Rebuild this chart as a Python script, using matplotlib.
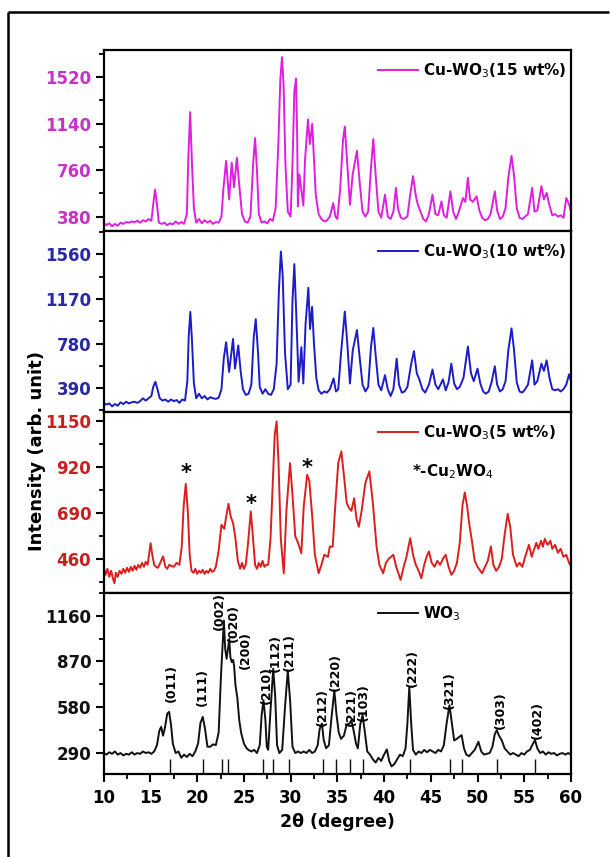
import numpy as np
import matplotlib.pyplot as plt
from matplotlib.ticker import MultipleLocator
from matplotlib.lines import Line2D

plt.rcParams['font.family'] = ['DejaVu Sans']
plt.rcParams['mathtext.fontset'] = 'dejavusans'

# XRD patterns: (2theta, intensity)
cu15 = np.array([
    (10.0, 330), (10.3, 310), (10.6, 325), (10.9, 300), (11.2, 320), (11.5, 305), (11.8, 330),
    (12.1, 320), (12.4, 335), (12.7, 330), (13.0, 340), (13.3, 335), (13.6, 345), (13.9, 330),
    (14.2, 350), (14.5, 340), (14.8, 360), (15.1, 345), (15.3, 480), (15.5, 600), (15.7, 480),
    (15.9, 330), (16.2, 320), (16.5, 330), (16.8, 310), (17.1, 325), (17.4, 315), (17.7, 340),
    (18.0, 320), (18.3, 335), (18.6, 320), (18.9, 400), (19.05, 850), (19.25, 1233), (19.45, 800),
    (19.65, 450), (19.9, 330), (20.2, 360), (20.5, 325), (20.8, 350), (21.1, 330), (21.4, 345),
    (21.7, 320), (22.0, 335), (22.3, 330), (22.6, 380), (22.8, 600), (23.1, 834), (23.42, 520),
    (23.7, 820), (23.95, 620), (24.25, 861), (24.55, 600), (24.8, 400), (25.1, 340), (25.4, 330),
    (25.7, 380), (26.0, 820), (26.2, 1021), (26.4, 760), (26.6, 400), (26.9, 330), (27.2, 340),
    (27.5, 325), (27.8, 360), (28.1, 345), (28.4, 450), (28.7, 1000), (28.9, 1500), (29.08, 1682),
    (29.25, 1450), (29.45, 800), (29.7, 420), (30.0, 380), (30.2, 800), (30.4, 1400), (30.58, 1508),
    (30.7, 1050), (30.78, 463), (30.94, 724), (31.15, 600), (31.36, 470), (31.55, 850), (31.86, 1173),
    (32.06, 972), (32.31, 1137), (32.5, 850), (32.7, 550), (33.0, 400), (33.3, 360), (33.6, 340),
    (33.9, 350), (34.2, 380), (34.56, 490), (34.8, 380), (35.0, 360), (35.3, 600), (35.6, 1000),
    (35.8, 1115), (36.0, 880), (36.35, 476), (36.64, 724), (37.1, 917), (37.4, 650), (37.7, 420),
    (38.0, 380), (38.3, 420), (38.6, 780), (38.85, 1013), (39.1, 720), (39.4, 420), (39.7, 370),
    (40.1, 559), (40.4, 380), (40.7, 360), (41.0, 420), (41.27, 614), (41.5, 440), (41.8, 370),
    (42.1, 360), (42.5, 380), (42.8, 560), (43.1, 710), (43.4, 550), (43.6, 480), (43.9, 420),
    (44.2, 360), (44.5, 340), (44.8, 400), (45.18, 559), (45.5, 400), (45.8, 390), (46.14, 504),
    (46.4, 390), (46.7, 370), (47.1, 586), (47.4, 420), (47.7, 360), (48.0, 420), (48.44, 531),
    (48.7, 500), (48.97, 696), (49.2, 520), (49.5, 500), (49.9, 545), (50.2, 430), (50.5, 370),
    (50.8, 350), (51.1, 360), (51.4, 400), (51.85, 586), (52.1, 430), (52.4, 360), (52.7, 380),
    (53.0, 450), (53.3, 700), (53.64, 875), (53.9, 720), (54.2, 450), (54.5, 370), (54.8, 360),
    (55.1, 380), (55.4, 400), (55.85, 614), (56.1, 420), (56.4, 430), (56.84, 628), (57.1, 520),
    (57.4, 573), (57.7, 470), (58.0, 390), (58.3, 400), (58.6, 380), (58.9, 390), (59.2, 370),
    (59.5, 531), (59.8, 480), (60.0, 421),
])

cu10 = np.array([
    (10.0, 260), (10.3, 245), (10.6, 255), (10.9, 230), (11.2, 250), (11.5, 235), (11.8, 265),
    (12.1, 250), (12.4, 270), (12.7, 255), (13.0, 265), (13.3, 270), (13.6, 260), (13.9, 275),
    (14.2, 300), (14.5, 280), (14.8, 300), (15.1, 320), (15.3, 400), (15.53, 445), (15.75, 380),
    (16.0, 300), (16.3, 280), (16.6, 290), (16.9, 270), (17.2, 290), (17.5, 275), (17.8, 285),
    (18.1, 260), (18.4, 290), (18.7, 280), (18.95, 450), (19.1, 850), (19.27, 1057), (19.45, 800),
    (19.65, 430), (19.9, 300), (20.2, 340), (20.5, 300), (20.8, 320), (21.1, 290), (21.4, 310),
    (21.7, 300), (22.0, 295), (22.3, 305), (22.6, 380), (22.85, 650), (23.1, 791), (23.42, 531),
    (23.84, 820), (24.05, 560), (24.4, 763), (24.65, 540), (24.9, 380), (25.2, 330), (25.5, 340),
    (25.8, 420), (26.05, 830), (26.27, 994), (26.5, 720), (26.7, 400), (27.0, 340), (27.3, 380),
    (27.6, 340), (27.9, 330), (28.2, 380), (28.5, 600), (28.75, 1250), (28.96, 1586), (29.15, 1380),
    (29.4, 700), (29.7, 380), (30.0, 420), (30.2, 1150), (30.4, 1476), (30.6, 1050), (30.86, 445),
    (31.15, 748), (31.36, 430), (31.6, 950), (31.9, 1268), (32.08, 907), (32.3, 1101), (32.5, 780),
    (32.75, 480), (33.0, 370), (33.3, 340), (33.6, 360), (33.9, 350), (34.2, 380), (34.6, 474),
    (34.85, 360), (35.1, 380), (35.4, 700), (35.8, 1060), (36.05, 800), (36.35, 430), (36.65, 720),
    (37.1, 898), (37.4, 650), (37.7, 420), (38.0, 360), (38.3, 400), (38.6, 750), (38.85, 916),
    (39.1, 680), (39.4, 420), (39.7, 370), (40.1, 503), (40.4, 380), (40.7, 320), (41.0, 380),
    (41.35, 647), (41.6, 420), (41.9, 350), (42.2, 360), (42.5, 400), (42.9, 600), (43.2, 714),
    (43.5, 520), (43.8, 460), (44.1, 380), (44.4, 350), (44.8, 420), (45.18, 552), (45.5, 420),
    (45.8, 380), (46.3, 465), (46.6, 370), (46.9, 440), (47.2, 604), (47.5, 430), (47.8, 380),
    (48.1, 400), (48.5, 480), (48.97, 754), (49.3, 520), (49.6, 450), (50.0, 560), (50.3, 430),
    (50.6, 360), (50.9, 340), (51.2, 360), (51.5, 440), (51.85, 581), (52.1, 420), (52.4, 360),
    (52.7, 380), (53.0, 450), (53.3, 720), (53.64, 913), (53.9, 730), (54.2, 440), (54.5, 360),
    (54.8, 350), (55.1, 380), (55.4, 420), (55.85, 633), (56.1, 420), (56.4, 450), (56.84, 604),
    (57.1, 540), (57.4, 633), (57.7, 480), (58.0, 380), (58.3, 370), (58.6, 380), (58.9, 360),
    (59.2, 380), (59.5, 420), (59.8, 511), (60.0, 450),
])

cu5 = np.array([
    (10.0, 420), (10.2, 380), (10.4, 410), (10.6, 370), (10.8, 400), (11.0, 360), (11.15, 338),
    (11.3, 390), (11.5, 370), (11.7, 400), (11.9, 385), (12.1, 410), (12.3, 390), (12.5, 415),
    (12.7, 395), (12.9, 420), (13.1, 400), (13.3, 425), (13.5, 405), (13.7, 430), (13.9, 415),
    (14.1, 440), (14.3, 420), (14.5, 445), (14.7, 430), (14.85, 480), (15.02, 538), (15.2, 480),
    (15.4, 430), (15.6, 420), (15.8, 415), (16.05, 440), (16.35, 472), (16.6, 420), (16.8, 410),
    (17.0, 430), (17.2, 425), (17.5, 420), (17.8, 440), (18.1, 430), (18.35, 520), (18.55, 720),
    (18.78, 835), (19.0, 700), (19.2, 480), (19.4, 400), (19.6, 390), (19.8, 410), (20.0, 385),
    (20.2, 400), (20.4, 390), (20.6, 405), (20.8, 385), (21.0, 400), (21.2, 390), (21.4, 410),
    (21.6, 395), (21.8, 400), (22.0, 420), (22.3, 500), (22.6, 630), (22.9, 610), (23.1, 670),
    (23.35, 735), (23.6, 670), (23.85, 638), (24.1, 560), (24.35, 450), (24.6, 410), (24.8, 440),
    (25.0, 410), (25.2, 430), (25.45, 540), (25.74, 697), (25.95, 580), (26.2, 430), (26.4, 410),
    (26.6, 440), (26.8, 420), (27.0, 450), (27.2, 420), (27.4, 430), (27.6, 430), (27.85, 560),
    (28.1, 850), (28.3, 1080), (28.5, 1147), (28.7, 950), (28.95, 560), (29.27, 388), (29.55, 700),
    (29.94, 938), (30.2, 780), (30.5, 572), (30.8, 540), (31.15, 488), (31.4, 720), (31.77, 880),
    (32.0, 850), (32.3, 680), (32.6, 480), (33.0, 388), (33.3, 430), (33.6, 480), (34.0, 470),
    (34.2, 522), (34.5, 520), (34.8, 740), (35.1, 940), (35.43, 997), (35.7, 880), (36.0, 740),
    (36.26, 713), (36.5, 700), (36.8, 763), (37.05, 660), (37.3, 620), (37.6, 700), (38.0, 840),
    (38.43, 897), (38.8, 740), (39.2, 520), (39.5, 430), (39.9, 388), (40.2, 440), (40.5, 460),
    (41.0, 480), (41.3, 420), (41.77, 355), (42.1, 420), (42.4, 470), (42.8, 563), (43.1, 480),
    (43.4, 430), (43.7, 400), (43.99, 363), (44.3, 430), (44.55, 470), (44.8, 497), (45.1, 440),
    (45.4, 420), (45.7, 450), (46.0, 430), (46.3, 460), (46.6, 480), (46.9, 420), (47.2, 380),
    (47.5, 400), (47.8, 440), (48.1, 540), (48.4, 730), (48.64, 792), (48.9, 720), (49.1, 640),
    (49.4, 550), (49.7, 450), (50.0, 420), (50.3, 400), (50.5, 388), (50.8, 420), (51.1, 450),
    (51.43, 522), (51.7, 430), (52.0, 400), (52.3, 420), (52.6, 460), (52.9, 580), (53.23, 685),
    (53.5, 620), (53.8, 480), (54.2, 422), (54.5, 440), (54.8, 420), (55.1, 470), (55.5, 530),
    (55.8, 470), (56.0, 500), (56.3, 540), (56.5, 510), (56.8, 550), (57.0, 520), (57.2, 560),
    (57.5, 530), (57.8, 550), (58.0, 510), (58.3, 530), (58.6, 490), (58.9, 510), (59.2, 470),
    (59.5, 480), (59.8, 440), (60.0, 422),
])

wo3 = np.array([
    (10.0, 290), (10.3, 280), (10.6, 295), (10.9, 285), (11.2, 300), (11.5, 280), (11.8, 290),
    (12.1, 275), (12.4, 285), (12.7, 280), (13.0, 295), (13.3, 280), (13.6, 290), (13.9, 285),
    (14.2, 300), (14.5, 290), (14.8, 295), (15.1, 285), (15.4, 300), (15.7, 340), (15.95, 430),
    (16.15, 456), (16.35, 400), (16.55, 450), (16.8, 540), (17.0, 551), (17.2, 470), (17.4, 350),
    (17.7, 290), (18.0, 300), (18.3, 260), (18.6, 280), (18.9, 265), (19.2, 285), (19.5, 270),
    (19.8, 300), (20.1, 350), (20.35, 480), (20.6, 519), (20.85, 440), (21.1, 330), (21.4, 330),
    (21.7, 345), (22.0, 340), (22.3, 420), (22.55, 780), (22.86, 1129), (23.0, 950), (23.15, 887),
    (23.3, 950), (23.44, 1013), (23.55, 900), (23.7, 866), (23.85, 880), (23.95, 845), (24.1, 720),
    (24.3, 640), (24.5, 500), (24.7, 420), (25.0, 350), (25.3, 320), (25.5, 309), (25.8, 300),
    (26.1, 310), (26.4, 290), (26.7, 340), (26.9, 530), (27.1, 624), (27.3, 500), (27.45, 330),
    (27.6, 310), (27.85, 560), (28.14, 824), (28.35, 650), (28.55, 340), (28.8, 290), (29.1, 310),
    (29.4, 580), (29.7, 813), (29.95, 620), (30.2, 330), (30.5, 290), (30.8, 300), (31.1, 290),
    (31.4, 300), (31.7, 290), (32.0, 310), (32.3, 290), (32.6, 300), (32.9, 340), (33.1, 440),
    (33.35, 477), (33.55, 370), (33.8, 320), (34.1, 340), (34.35, 500), (34.68, 687), (34.9, 540),
    (35.15, 420), (35.4, 380), (35.7, 400), (36.0, 470), (36.3, 477), (36.5, 498), (36.75, 430),
    (37.0, 350), (37.2, 320), (37.45, 470), (37.7, 530), (37.95, 420), (38.2, 300), (38.5, 280),
    (38.8, 250), (39.1, 230), (39.4, 260), (39.7, 240), (40.0, 280), (40.3, 313), (40.55, 240),
    (40.8, 205), (41.1, 220), (41.4, 250), (41.7, 280), (42.0, 270), (42.3, 320), (42.5, 480),
    (42.7, 708), (42.9, 480), (43.1, 310), (43.4, 280), (43.7, 300), (44.0, 290), (44.3, 310),
    (44.6, 295), (44.9, 310), (45.2, 300), (45.5, 290), (45.8, 310), (46.1, 300), (46.4, 340),
    (46.7, 480), (47.0, 593), (47.25, 480), (47.5, 370), (47.8, 380), (48.0, 390), (48.3, 403),
    (48.55, 320), (48.8, 280), (49.1, 270), (49.4, 290), (49.7, 310), (50.1, 361), (50.4, 300),
    (50.7, 280), (51.0, 285), (51.3, 290), (51.6, 330), (51.85, 410), (52.06, 435), (52.3, 400),
    (52.6, 370), (52.9, 320), (53.2, 300), (53.5, 280), (53.8, 290), (54.1, 280), (54.4, 270),
    (54.7, 290), (55.0, 280), (55.3, 300), (55.6, 310), (55.9, 345), (56.15, 372), (56.4, 320),
    (56.7, 290), (57.0, 300), (57.3, 280), (57.6, 295), (57.9, 285), (58.2, 290), (58.5, 275),
    (58.8, 285), (59.1, 290), (59.4, 280), (59.7, 290), (60.0, 280),
])

# reference pattern positions (sticks) for WO3
ref_pos = [17.07, 20.63, 22.63, 23.31, 27.06, 28.13, 29.85, 33.5, 34.9, 36.4, 37.77,
           42.8, 47.05, 48.3, 52.04, 56.15]

# hkl labels and where their centres sit
hkl_labels = ['(011)', '(111)', '(002)', '(020)', '(200)', '(210)', '(112)', '(211)',
              '(212)', '(220)', '(221)', '(103)', '(222)', '(321)', '(303)', '(402)']
hkl_x = [17.2, 20.6, 22.4, 23.9, 25.2, 27.4, 28.4, 29.9, 33.35, 34.8, 36.5, 37.8,
         43.0, 47.0, 52.4, 56.4]
hkl_y = [732, 707, 1192, 1116, 940, 719, 921, 927, 580, 801, 580, 612, 826, 688, 561, 498]

# Cu2WO4 marks in the 5 wt% pattern
star_x = [18.78, 25.74, 31.77]
star_y = [888, 735, 913]

panels = [
    dict(data=cu15, color='#e01ee0', tick_color='#c832c8', label='Cu-WO$_3$(15 wt%)',
         ylim=(264, 1743), major=380, minor=190),
    dict(data=cu10, color='#1c1cc8', tick_color='#2828a8', label='Cu-WO$_3$(10 wt%)',
         ylim=(182, 1768), major=390, minor=195),
    dict(data=cu5, color='#dc1e1e', tick_color='#c82020', label='Cu-WO$_3$(5 wt%)',
         ylim=(290, 1195), major=230, minor=115),
    dict(data=wo3, color='#111111', tick_color='#111111', label='WO$_3$',
         ylim=(158, 1305), major=290, minor=145),
]

fig = plt.figure(figsize=(6.10, 8.57), dpi=100)
gs = fig.add_gridspec(4, 1, left=0.170, right=0.936, top=0.942, bottom=0.097, hspace=0)

axes = []
for i, p in enumerate(panels):
    ax = fig.add_subplot(gs[i], sharex=axes[0] if axes else None)
    axes.append(ax)
    ax.plot(p['data'][:, 0], p['data'][:, 1], color=p['color'], lw=1.4, label=p['label'])
    ax.set_ylim(*p['ylim'])
    ax.yaxis.set_major_locator(MultipleLocator(p['major']))
    ax.yaxis.set_minor_locator(MultipleLocator(p['minor']))
    ax.tick_params(axis='y', which='major', direction='out', length=6, width=1.5,
                   labelsize=12, labelcolor=p['tick_color'], pad=3)
    ax.tick_params(axis='y', which='minor', direction='out', length=3.5, width=1.3)
    for lab in ax.get_yticklabels():
        lab.set_fontweight('bold')
    for s in ax.spines.values():
        s.set_linewidth(1.6)
    ax.legend(loc='upper left', bbox_to_anchor=(0.575, 0.97), frameon=False,
              handlelength=2.6, handletextpad=0.3, borderaxespad=0,
              prop={'size': 11, 'weight': 'bold'})

ax = axes[-1]
ax.set_xlim(10, 60)
ax.xaxis.set_major_locator(MultipleLocator(5))
ax.xaxis.set_minor_locator(MultipleLocator(2.5))
for a in axes[:-1]:
    a.tick_params(axis='x', which='both', bottom=False, labelbottom=False)
ax.tick_params(axis='x', which='major', direction='out', length=6, width=1.5, labelsize=12, pad=5)
ax.tick_params(axis='x', which='minor', direction='out', length=3.5, width=1.3)
for lab in ax.get_xticklabels():
    lab.set_fontweight('bold')
ax.set_xlabel('2θ (degree)', fontsize=12.5, fontweight='bold', labelpad=4)

# reference sticks and hkl labels on the WO3 pattern
ax.vlines(ref_pos, 158, 255, color='#111111', lw=1.0)
for lab, x, y in zip(hkl_labels, hkl_x, hkl_y):
    ax.text(x, y, lab, rotation=90, ha='center', va='center', fontsize=9, fontweight='bold')

# Cu2WO4 markers
ax3 = axes[2]
for x, y in zip(star_x, star_y):
    ax3.text(x, y, '*', ha='center', va='center', fontsize=15, fontweight='bold')
ax3.text(0.66, 0.67, '*-Cu$_2$WO$_4$', transform=ax3.transAxes, fontsize=11,
         fontweight='bold', ha='left', va='center')

fig.text(0.061, 0.474, 'Intensity (arb. unit)', rotation=90, ha='center', va='center',
         fontsize=13, fontweight='bold')

# outer frame of the original figure
fig.add_artist(Line2D([8 / 610, 609 / 610], [1 - 12 / 857, 1 - 12 / 857], color='black', lw=1.8,
                      solid_capstyle='butt', transform=fig.transFigure))
fig.add_artist(Line2D([8 / 610, 8 / 610], [0, 1 - 12 / 857], color='black', lw=1.8,
                      solid_capstyle='butt', transform=fig.transFigure))

fig.savefig('out.png', dpi=100)
